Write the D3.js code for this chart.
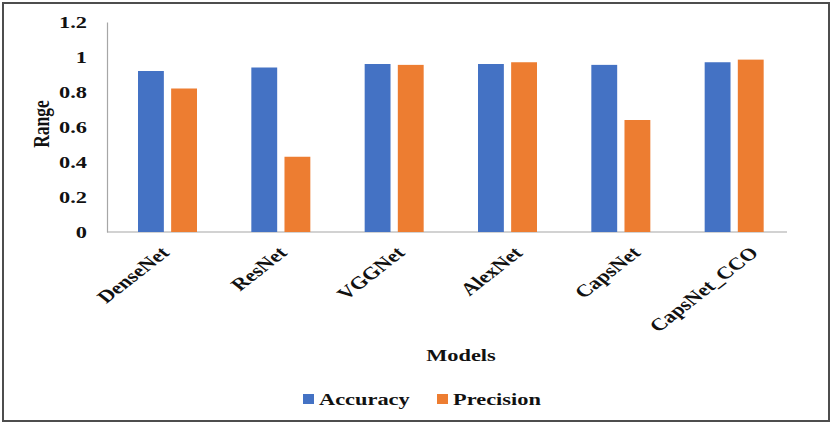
<!DOCTYPE html>
<html><head><meta charset="utf-8">
<script src="https://cdn.jsdelivr.net/npm/d3@7"></script>
<style>html,body{margin:0;padding:0;background:#fff}
text{font-family:"Liberation Serif","Times New Roman",Tinos,"DejaVu Serif",serif;font-weight:bold;fill:#111}</style>
</head><body>
<script>
const categories = ["DenseNet","ResNet","VGGNet","AlexNet","CapsNet","CapsNet_CCO"];
const accuracy = [0.92,0.94,0.96,0.96,0.955,0.97];
const precision = [0.82,0.43,0.955,0.97,0.64,0.985];
const seriesNames = ["Accuracy","Precision"];
const colors = ["#4472C4","#ED7D31"];
const yTicks = [0,0.2,0.4,0.6,0.8,1,1.2];

(function(){
const W=832,H=424, SX=1.28, FS=17.5;
const svg=d3.select("body").append("svg").attr("width",W).attr("height",H);
svg.append("rect").attr("x",3).attr("y",3).attr("width",826).attr("height",418)
  .attr("fill","#fff").attr("stroke","#4d4d4d").attr("stroke-width",2);

const mLeft=107,mRight=787,mTop=22,mBottom=232;
const x=d3.scaleBand().domain(categories).range([mLeft,mRight]);
const labelX=d3.scalePoint().domain(categories).range([170,759]);
const y=d3.scaleLinear().domain([0,1.2]).range([mBottom,mTop]);
const inner=d3.scaleBand().domain(seriesNames).range([31,90]).paddingInner(0.22);

const yAxis=svg.append("g").attr("transform",`translate(${mLeft},0)`)
  .call(d3.axisLeft(y).tickValues(yTicks).tickSize(0).tickFormat(d=>d3.format("~g")(d)));
yAxis.select(".domain").attr("stroke","#a6a6a6").attr("stroke-width",1.2);
yAxis.selectAll("text").attr("font-size",FS).attr("x",0).attr("dy","0.34em")
  .attr("fill","#111").attr("transform",`translate(-20,0) scale(${SX},1)`);

// x axis line from the band scale's range
svg.append("line").attr("x1",x.range()[0]).attr("x2",x.range()[1])
  .attr("y1",y(0)).attr("y2",y(0)).attr("stroke","#a6a6a6").attr("stroke-width",1.2);

const xAxis=svg.append("g").attr("transform",`translate(0,${mBottom})`)
  .call(d3.axisBottom(labelX).tickSize(0).tickPadding(0));
xAxis.select(".domain").remove();
xAxis.selectAll("text").attr("font-size",FS).attr("fill","#111")
  .attr("text-anchor","end").attr("dy",0).attr("y",0)
  .attr("transform",`translate(0,22) scale(${SX},1) rotate(-45)`);

const data=categories.map((c,i)=>({c,vals:[accuracy[i],precision[i]]}));
const g=svg.append("g");
data.forEach(d=>{
  d.vals.forEach((v,j)=>{
    g.append("rect").attr("x",x(d.c)+inner(seriesNames[j])).attr("width",inner.bandwidth())
      .attr("y",y(v)).attr("height",y(0)-y(v)).attr("fill",colors[j]);
  });
});

svg.append("text").attr("transform",`translate(49,124) scale(${SX},1) rotate(-90)`).attr("text-anchor","middle")
  .attr("font-size",FS).text("Range");
svg.append("text").attr("transform",`translate(461,361) scale(${SX},1)`).attr("text-anchor","middle")
  .attr("font-size",FS).text("Models");

const legX=[303,437];
seriesNames.forEach((s,i)=>{
  svg.append("rect").attr("x",legX[i]).attr("y",394).attr("width",11).attr("height",10).attr("fill",colors[i]);
  svg.append("text").attr("transform",`translate(${legX[i]+16},405) scale(${SX},1)`)
    .attr("font-size",FS).text(s);
});
})();
</script>
</body></html>
